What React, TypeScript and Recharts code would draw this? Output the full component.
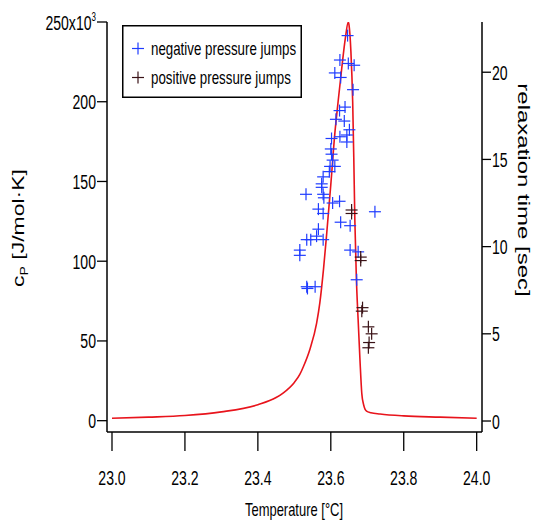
import React from 'react'
import {
  ComposedChart,
  Line,
  Scatter,
  XAxis,
  YAxis,
  Legend,
} from 'recharts'

// heat capacity curve (left axis, J/mol·K)
const cpTemps = [
  23.0, 23.1, 23.2, 23.3, 23.4, 23.45, 23.47, 23.5, 23.515, 23.525, 23.543, 23.561, 23.57,
  23.58, 23.589, 23.6, 23.611, 23.62, 23.63, 23.64, 23.648, 23.65, 23.655, 23.66, 23.663,
  23.666, 23.67, 23.675, 23.68, 23.685, 23.69, 23.698, 23.71, 23.735, 23.8, 23.9, 24.0,
]
const cpValues = [
  1.5, 2.2, 3.2, 5.5, 10, 14.5, 17.5, 24, 29, 34, 45, 61, 74,
  95, 118, 148, 180, 200, 221, 240, 250, 248, 232, 200, 165,
  125, 90, 63, 38, 17, 10, 6, 5, 4.2, 3, 2.2, 1.5,
]

// relaxation times (right axis, sec)
const negTemps = [
  23.646, 23.625, 23.648, 23.664, 23.611, 23.627, 23.661, 23.624, 23.639, 23.614, 23.637,
  23.651, 23.644, 23.625, 23.602, 23.644, 23.6, 23.602, 23.605, 23.598, 23.611, 23.596,
  23.579, 23.575, 23.575, 23.532, 23.579, 23.581, 23.605, 23.624, 23.566, 23.579, 23.721,
  23.627, 23.653, 23.566, 23.534, 23.545, 23.561, 23.579, 23.515, 23.515, 23.653, 23.675,
  23.671, 23.534, 23.536, 23.557,
]
const negTau = [
  22.1, 20.7, 20.5, 20.4, 19.96, 19.7, 19.0, 17.8, 18.0, 17.3, 17.2,
  16.7, 16.4, 16.3, 16.2, 16.0, 15.6, 15.3, 14.96, 14.6, 14.6, 14.3,
  14.0, 13.6, 13.4, 13.0, 13.0, 12.8, 12.5, 12.6, 12.15, 11.9, 12.0,
  11.4, 11.2, 11.0, 10.4, 10.4, 10.6, 10.4, 9.8, 9.5, 9.8, 9.7,
  8.1, 7.7, 7.6, 7.7,
]
const posTemps = [23.657, 23.657, 23.682, 23.682, 23.687, 23.685, 23.703, 23.712, 23.705, 23.703]
const posTau = [12.1, 11.9, 9.4, 9.2, 6.5, 6.3, 5.4, 5.0, 4.5, 4.2]

const xTicks = [23.0, 23.2, 23.4, 23.6, 23.8, 24.0]
const leftTicks = [0, 50, 100, 150, 200, 250]
const rightTicks = [0, 5, 10, 15, 20]

const cpData = cpTemps.map((T, i) => ({ T, cp: cpValues[i] }))
const negData = negTemps.map((T, i) => ({ T, tau: negTau[i] }))
const posData = posTemps.map((T, i) => ({ T, tau: posTau[i] }))

const FONT = 'Liberation Sans, Arial, sans-serif'
const BLUE = '#1f3cff'
const DARK = '#3a1216'

const plus = (color: string) => (props: any) => {
  const { cx, cy } = props
  return (
    <g stroke={color} strokeWidth={1.2}>
      <line x1={cx - 6} y1={cy} x2={cx + 6} y2={cy} />
      <line x1={cx} y1={cy - 6} x2={cx} y2={cy + 6} />
    </g>
  )
}

const XTick = ({ x, y, payload }: any) => (
  <text transform={`translate(${x},${y + 34}) scale(0.67,1)`} textAnchor="middle" fontSize={21} fontFamily={FONT} fill="#000">
    {Number(payload.value).toFixed(1)}
  </text>
)

const LeftTick = ({ x, y, payload }: any) => (
  <text transform={`translate(${x - 1},${y + 7.5}) scale(0.67,1)`} textAnchor="end" fontSize={21} fontFamily={FONT} fill="#000">
    {payload.value === 250 ? (
      <>
        250x10<tspan fontSize={12} dy={-9}>3</tspan>
      </>
    ) : (
      payload.value
    )}
  </text>
)

const RightTick = ({ x, y, payload }: any) => (
  <text transform={`translate(${x + 1},${y + 7.5}) scale(0.67,1)`} textAnchor="start" fontSize={21} fontFamily={FONT} fill="#000">
    {payload.value}
  </text>
)

const renderLegend = (props: any) => {
  const items = (props.payload || []).filter((p: any) => p.type !== 'none')
  return (
    <svg width={180} height={73} style={{ display: 'block' }}>
      <rect x={0.75} y={0.75} width={178.5} height={71.5} fill="#fff" stroke="#000" strokeWidth={1.5} />
      {items.map((it: any, i: number) => {
        const cy = 23.5 + i * 29
        return (
          <g key={it.value}>
            <g stroke={it.color} strokeWidth={1.2}>
              <line x1={10} y1={cy} x2={22} y2={cy} />
              <line x1={16} y1={cy - 6} x2={16} y2={cy + 6} />
            </g>
            <text transform={`translate(29,${cy + 6}) scale(0.74,1)`} fontSize={18} fontFamily={FONT} fill="#000">
              {it.value}
            </text>
          </g>
        )
      })}
    </svg>
  )
}

export default function App() {
  return (
    <div style={{ position: 'absolute', left: 0, top: 0, width: 536, height: 529, background: '#fff' }}>
      <ComposedChart width={536} height={529} margin={{ top: 22, right: 0, bottom: 0, left: 0 }}>
        <XAxis
          dataKey="T"
          type="number"
          domain={[22.9863, 24.0146]}
          ticks={xTicks}
          allowDataOverflow
          height={97}
          tickSize={19}
          tickMargin={0}
          tick={<XTick />}
          axisLine={{ stroke: '#000', strokeWidth: 1.5 }}
          tickLine={{ stroke: '#000', strokeWidth: 1.3 }}
        />
        <YAxis
          yAxisId="left"
          type="number"
          domain={[-7.1, 250]}
          ticks={leftTicks}
          allowDataOverflow
          width={107}
          tickSize={10}
          tickMargin={0}
          tick={<LeftTick />}
          axisLine={{ stroke: '#000', strokeWidth: 1.5 }}
          tickLine={{ stroke: '#000', strokeWidth: 1.3 }}
        />
        <YAxis
          yAxisId="right"
          orientation="right"
          type="number"
          domain={[-0.63, 22.88]}
          ticks={rightTicks}
          allowDataOverflow
          width={54}
          tickSize={9}
          tickMargin={0}
          tick={<RightTick />}
          axisLine={{ stroke: '#000', strokeWidth: 1.5 }}
          tickLine={{ stroke: '#000', strokeWidth: 1.3 }}
        />
        <Legend
          layout="horizontal"
          verticalAlign="middle"
          align="center"
          content={renderLegend}
          wrapperStyle={{ left: 122, top: 25, width: 180, height: 73 }}
        />
        <Line
          yAxisId="left"
          data={cpData}
          dataKey="cp"
          type="monotone"
          stroke="#e8141c"
          strokeWidth={1.6}
          dot={false}
          legendType="none"
          isAnimationActive={false}
        />
        <Scatter
          yAxisId="right"
          name="negative pressure jumps"
          data={negData}
          dataKey="tau"
          fill={BLUE}
          shape={plus(BLUE)}
          isAnimationActive={false}
        />
        <Scatter
          yAxisId="right"
          name="positive pressure jumps"
          data={posData}
          dataKey="tau"
          fill={DARK}
          shape={plus(DARK)}
          isAnimationActive={false}
        />
        <text transform="translate(24,228) rotate(-90) scale(1,0.72)" textAnchor="middle" fontSize={23} fontFamily={FONT} fill="#000">
          c<tspan fontSize={14} dy={5}>P</tspan>
          <tspan dy={-5}> [J/mol·K]</tspan>
        </text>
        <text transform="translate(518,190) rotate(90) scale(1,0.72)" textAnchor="middle" fontSize={24} fontFamily={FONT} fill="#000">
          relaxation time [sec]
        </text>
        <text transform="translate(294,516) scale(0.72,1)" textAnchor="middle" fontSize={18} fontFamily={FONT} fill="#000">
          Temperature [°C]
        </text>
      </ComposedChart>
    </div>
  )
}
